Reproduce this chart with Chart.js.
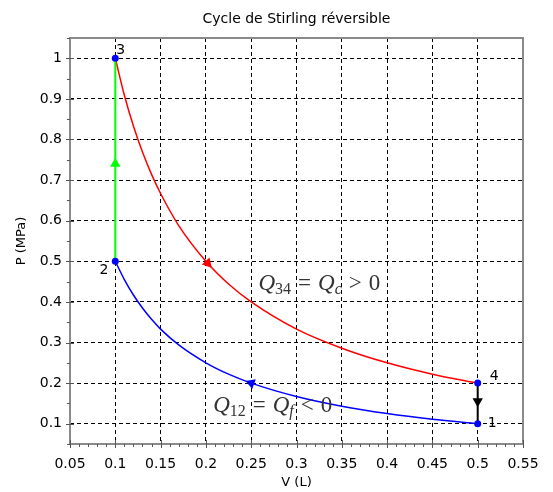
<!DOCTYPE html>
<html>
<head>
<meta charset="utf-8">
<script src="https://cdn.jsdelivr.net/npm/chart.js@4.4.1/dist/chart.umd.min.js"></script>
<style>
  html, body { margin: 0; padding: 0; background: #fff; }
  #wrap { width: 553px; height: 492px; position: relative; }
</style>
</head>
<body>
<div id="wrap"><canvas id="stirling"></canvas></div>
<script>
// Cycle de Stirling
const xTicks = [0.05, 0.1, 0.15, 0.2, 0.25, 0.3, 0.35, 0.4, 0.45, 0.5, 0.55];
const yTicks = [0.1, 0.2, 0.3, 0.4, 0.5, 0.6, 0.7, 0.8, 0.9, 1];

// isotherme froide 1 -> 2
const blueV = [0.1, 0.11, 0.12, 0.13, 0.14, 0.15, 0.17, 0.2, 0.225, 0.25, 0.3, 0.35, 0.4, 0.45, 0.5];
const blueP = [0.5, 0.455, 0.417, 0.385, 0.357, 0.333, 0.294, 0.25, 0.222, 0.2, 0.167, 0.143, 0.125, 0.111, 0.1];
// isotherme chaude 3 -> 4
const redV = [0.1, 0.11, 0.12, 0.13, 0.14, 0.15, 0.17, 0.2, 0.225, 0.25, 0.3, 0.35, 0.4, 0.45, 0.5];
const redP = [1, 0.909, 0.833, 0.769, 0.714, 0.667, 0.588, 0.5, 0.444, 0.4, 0.333, 0.286, 0.25, 0.222, 0.2];
// isochores
const greenV = [0.1, 0.1];
const greenP = [0.5, 1];
const blackV = [0.5, 0.5];
const blackP = [0.2, 0.1];

const vertexV = [0.5, 0.1, 0.1, 0.5];
const vertexP = [0.1, 0.5, 1, 0.2];
const vertexNames = ['1', '2', '3', '4'];

const arrowV = [0.25, 0.1, 0.202, 0.5];
const arrowP = [0.2, 0.74, 0.495, 0.155];
const arrowAngle = [-70, 0, 138, 180];
const arrowColor = ['#0000ff', '#00ff00', '#ff0000', '#000000'];

const heatLabels = [
  { v: 0.258, p: 0.447, parts: [['Q', 'it'], ['34', 'sub'], ['=', 'rel'], ['Q', 'it'], ['c', 'subit'], ['>', 'rel'], ['0', 'rm']] },
  { v: 0.208, p: 0.147, parts: [['Q', 'it'], ['12', 'sub'], ['=', 'rel'], ['Q', 'it'], ['f', 'subit'], ['<', 'rel'], ['0', 'rm']] }
];

const pts = (xs, ys) => xs.map((x, i) => ({ x: x, y: ys[i] }));
const SANS = 'DejaVu Sans';

const decorPlugin = {
  id: 'decor',
  afterDraw(chart) {
    const { ctx, chartArea: a, scales } = chart;
    const xs = scales.x, ys = scales.y;
    ctx.save();

    // cadre gris
    ctx.strokeStyle = '#8a8a8a';
    ctx.lineWidth = 2;
    ctx.strokeRect(a.left, a.top, a.right - a.left, a.bottom - a.top);

    // graduations majeures et mineures
    ctx.strokeStyle = '#555';
    ctx.lineWidth = 1;
    ctx.beginPath();
    for (let v = 0.05; v <= 0.5501; v += 0.01) {
      const px = Math.round(xs.getPixelForValue(v)) + 0.5;
      const major = Math.abs(v * 20 - Math.round(v * 20)) < 1e-6;
      ctx.moveTo(px, a.bottom - (major ? 4 : 0));
      ctx.lineTo(px, a.bottom + (major ? 4 : 3));
    }
    for (let v = 0.05; v <= 1.0501; v += 0.05) {
      const py = Math.round(ys.getPixelForValue(v)) + 0.5;
      const major = Math.abs(v * 10 - Math.round(v * 10)) < 1e-6;
      ctx.moveTo(a.left - (major ? 4 : 3), py);
      ctx.lineTo(a.left + (major ? 4 : 0), py);
    }
    ctx.stroke();

    // titres
    ctx.fillStyle = '#000';
    ctx.font = '14px "' + SANS + '"';
    ctx.textAlign = 'center';
    ctx.textBaseline = 'middle';
    const cx = (a.left + a.right) / 2;
    ctx.fillText('Cycle de Stirling réversible', cx, 19);
    ctx.font = '13px "' + SANS + '"';
    ctx.fillText('V (L)', cx, 483);
    ctx.save();
    ctx.translate(22, (a.top + a.bottom) / 2);
    ctx.rotate(-Math.PI / 2);
    ctx.fillText('P (MPa)', 0, 0);
    ctx.restore();

    // numeros des etats
    ctx.font = '14px "' + SANS + '"';
    const offs = [[10, 0, 'left'], [-7, 9, 'right'], [1, -8, 'left'], [12, -7, 'left']];
    vertexNames.forEach((n, i) => {
      const px = xs.getPixelForValue(vertexV[i]);
      const py = ys.getPixelForValue(vertexP[i]);
      ctx.textAlign = offs[i][2];
      ctx.fillText(n, px + offs[i][0], py + offs[i][1]);
    });

    // chaleurs echangees
    ctx.fillStyle = '#333';
    ctx.textAlign = 'left';
    ctx.textBaseline = 'alphabetic';
    heatLabels.forEach(lab => {
      let x = xs.getPixelForValue(lab.v);
      const y = ys.getPixelForValue(lab.p) + 7;
      lab.parts.forEach(([txt, st]) => {
        let dy = 0, pad = 0;
        if (st === 'it') ctx.font = 'italic 23px "Liberation Serif"';
        else if (st === 'rm') ctx.font = '23px "Liberation Serif"';
        else if (st === 'rel') { ctx.font = '23px "Liberation Serif"'; pad = 7; }
        else if (st === 'sub') { ctx.font = '16px "Liberation Serif"'; dy = 4; }
        else { ctx.font = 'italic 16px "Liberation Serif"'; dy = 4; }
        x += pad;
        ctx.fillText(txt, x, y + dy);
        x += ctx.measureText(txt).width + pad;
      });
    });
    ctx.restore();
  }
};

new Chart(document.getElementById('stirling'), {
  type: 'scatter',
  data: {
    datasets: [
      { data: pts(vertexV, vertexP), pointRadius: 3.5, pointBackgroundColor: '#0000ff', pointBorderWidth: 0, showLine: false },
      { data: pts(arrowV, arrowP), pointStyle: 'triangle', pointRadius: 6, pointRotation: arrowAngle,
        pointBackgroundColor: arrowColor, pointBorderColor: arrowColor, pointBorderWidth: 0, showLine: false },
      { data: pts(greenV, greenP), showLine: true, borderColor: '#00ff00', borderWidth: 2, pointRadius: 0 },
      { data: pts(blackV, blackP), showLine: true, borderColor: '#000000', borderWidth: 2, pointRadius: 0 },
      { data: pts(redV, redP), showLine: true, borderColor: '#ff0000', borderWidth: 1.5, pointRadius: 0, cubicInterpolationMode: 'monotone' },
      { data: pts(blueV, blueP), showLine: true, borderColor: '#0000ff', borderWidth: 1.5, pointRadius: 0, cubicInterpolationMode: 'monotone' }
    ]
  },
  options: {
    responsive: true,
    maintainAspectRatio: false,
    animation: false,
    layout: { padding: { top: 38, right: 30, left: 0, bottom: 0 } },
    plugins: { legend: { display: false }, tooltip: { enabled: false }, title: { display: false } },
    scales: {
      x: {
        type: 'linear', min: 0.05, max: 0.55,
        afterBuildTicks: s => { s.ticks = xTicks.map(v => ({ value: v })); },
        afterFit: s => { s.height = 48; },
        grid: { color: '#000', lineWidth: 1, drawTicks: false },
        border: { display: false, dash: [4, 3] },
        ticks: { color: '#000', padding: 12, maxRotation: 0, autoSkip: false, font: { family: SANS, size: 14 }, callback: v => String(+v.toFixed(2)) }
      },
      y: {
        type: 'linear', min: 0.05, max: 1.05,
        afterBuildTicks: s => { s.ticks = yTicks.map(v => ({ value: v })); },
        afterFit: s => { s.width = 70; },
        grid: { color: '#000', lineWidth: 1, drawTicks: false },
        border: { display: false, dash: [4, 3] },
        ticks: { color: '#000', padding: 8, font: { family: SANS, size: 14 }, callback: v => String(+v.toFixed(1)) }
      }
    }
  },
  plugins: [decorPlugin]
});
</script>
</body>
</html>
